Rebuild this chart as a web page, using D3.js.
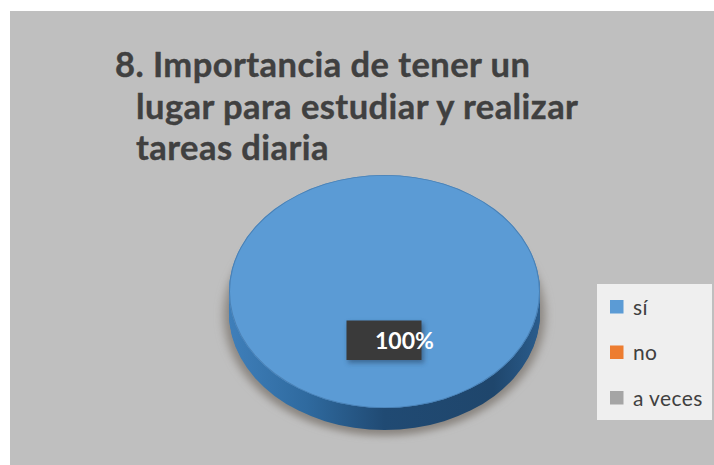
<!DOCTYPE html>
<html>
<head>
<meta charset="utf-8">
<script src="https://cdn.jsdelivr.net/npm/d3@7"></script>
<style>
  html, body { margin: 0; padding: 0; background: #fff; }
  svg { display: block; font-family: Lato, "Open Sans", sans-serif; }
</style>
</head>
<body>
<div id="d3_div"></div>
<script>
// chart data
var categories = ["sí", "no", "a veces"];
var values = [100, 0, 0];
var colors = ["#5b9bd5", "#ed7d31", "#a5a5a5"];
var titleLines = ["8. Importancia de tener un", "lugar para estudiar y realizar", "tareas diaria"];
var labelText = "100%";

var width = 714, height = 465;

var svg = d3.select("#d3_div")
  .append("svg")
    .attr("width", width)
    .attr("height", height);

var defs = svg.append("defs");

defs.append("filter").attr("id", "blur")
    .attr("x", "-20%").attr("y", "-20%").attr("width", "140%").attr("height", "140%")
  .append("feGaussianBlur").attr("stdDeviation", 5);

defs.append("filter").attr("id", "labelBlur")
    .attr("x", "-20%").attr("y", "-20%").attr("width", "140%").attr("height", "140%")
  .append("feGaussianBlur").attr("stdDeviation", 2.5);

// the side of the disc goes darker towards the right
var sideGrad = defs.append("linearGradient").attr("id", "side");
sideGrad.append("stop").attr("offset", "0%").attr("stop-color", "#3f7fba");
sideGrad.append("stop").attr("offset", "25%").attr("stop-color", "#2f6a9f");
sideGrad.append("stop").attr("offset", "50%").attr("stop-color", "#204a73");
sideGrad.append("stop").attr("offset", "85%").attr("stop-color", "#1f466c");
sideGrad.append("stop").attr("offset", "100%").attr("stop-color", "#2a5c8c");

// chart background
svg.append("rect")
    .attr("x", 10)
    .attr("y", 11)
    .attr("width", width - 10)
    .attr("height", height - 11)
    .attr("fill", "#bfbfbf");

// title
svg.append("g")
  .selectAll("text")
  .data(titleLines)
  .enter()
  .append("text")
    .attr("x", function(d, i) { return i == 0 ? 115 : 136 })
    .attr("y", function(d, i) { return 77 + i * 41.7 })
    .attr("font-size", 34.5)
    .attr("font-weight", 700)
    .attr("letter-spacing", 0.45)
    .attr("fill", "#404040")
    .attr("stroke", "#404040")
    .attr("stroke-width", 0.4)
    .text(function(d) { return d });

// pie, a circle squashed into an ellipse with some depth
var rx = 155.5, ry = 116.5, depth = 22;
var cx = 384.5, cy = 291.5;

var pie = d3.pie().sort(null).value(function(d) { return d });
var arc = d3.arc().innerRadius(0).outerRadius(rx);
var rim = d3.arc().innerRadius(rx - 1).outerRadius(rx);
var shadowArc = d3.arc().innerRadius(0).outerRadius(rx + 5);
var slices = pie(values);

var squash = function(dy) {
  return "translate(" + cx + "," + (cy + dy) + ") scale(1," + (ry / rx) + ")";
};

// soft shadow under the disc
svg.append("g")
    .attr("transform", squash(depth + 2))
    .attr("filter", "url(#blur)")
  .selectAll("path")
  .data(slices)
  .enter()
  .append("path")
    .attr("d", shadowArc)
    .attr("fill", "#8a8580");

// side wall, same slices stacked from the bottom up
d3.range(depth, 0, -1).forEach(function(dy) {
  svg.append("g")
      .attr("transform", squash(dy))
    .selectAll("path")
    .data(slices)
    .enter()
    .append("path")
      .attr("d", arc)
      .attr("fill", "url(#side)");
});

// top face
var face = svg.append("g")
    .attr("transform", squash(0));

face.selectAll("path.face")
  .data(slices)
  .enter()
  .append("path")
    .attr("class", "face")
    .attr("d", arc)
    .attr("fill", function(d, i) { return colors[i] });

face.selectAll("path.rim")
  .data(slices)
  .enter()
  .append("path")
    .attr("class", "rim")
    .attr("d", rim)
    .attr("fill", "#4a80b4");

// data label with its dark box
svg.append("rect")
    .attr("x", 348).attr("y", 323).attr("width", 76).attr("height", 40)
    .attr("fill", "#2a4a6a").attr("opacity", 0.6)
    .attr("filter", "url(#labelBlur)");
svg.append("rect")
    .attr("x", 346.5).attr("y", 320.5).attr("width", 75).attr("height", 39.5)
    .attr("fill", "#3a3a3a");
svg.append("text")
    .attr("x", 375).attr("y", 349)
    .attr("font-size", 23)
    .attr("font-weight", 700)
    .attr("fill", "#fff")
    .text(labelText);

// legend
svg.append("rect")
    .attr("x", 597).attr("y", 284).attr("width", 115).attr("height", 136)
    .attr("fill", "#efefef");

var legendY = d3.scalePoint()
    .domain(categories)
    .range([307, 398]);

var legend = svg.append("g")
  .selectAll("g")
  .data(categories)
  .enter()
  .append("g")
    .attr("transform", function(d) { return "translate(0," + legendY(d) + ")" });

legend.append("rect")
    .attr("x", 610).attr("y", -7).attr("width", 13.5).attr("height", 13.5)
    .attr("fill", function(d, i) { return colors[i] });

legend.append("text")
    .attr("x", 633).attr("y", 7.5)
    .attr("font-size", 21)
    .attr("letter-spacing", 0.4)
    .attr("fill", "#404040")
    .text(function(d) { return d });
</script>
</body>
</html>
